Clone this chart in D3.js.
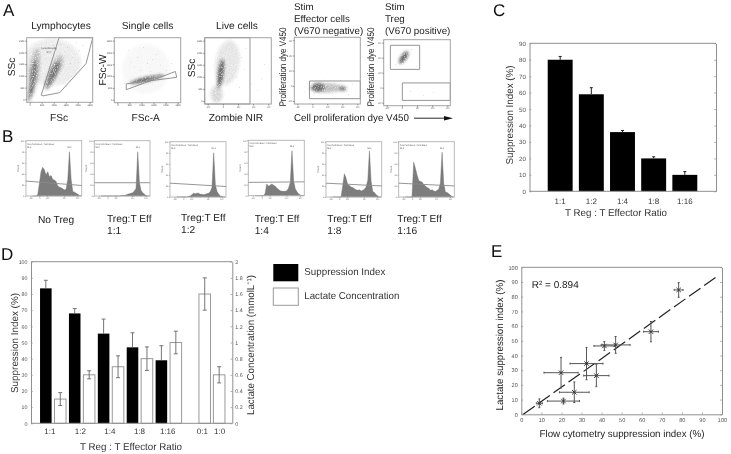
<!DOCTYPE html>
<html><head><meta charset="utf-8">
<script src="https://cdn.jsdelivr.net/npm/d3@7"></script>
<style>
html,body{margin:0;padding:0;background:#fff}
svg{display:block;filter:blur(0.3px)}
text{font-family:"Liberation Sans",Arial,sans-serif;text-rendering:geometricPrecision}
</style></head><body>
<svg id="c" width="731" height="454"></svg>
<script>
// ---------- Panel C ----------
const ratioC = ["1:1","1:2","1:4","1:8","1:16"];
const suppressionC = [80,59,36,20,10];
const suppressionCErr = [2,4,1,1,2];
// ---------- Panel D ----------
const ratioD = ["1:1","1:2","1:4","1:8","1:16","0:1","1:0"];
const ratioDSlots = [0.25,2.35,4.4,6.45,8.4,10.8,12];
const suppressionD = [83.5,68,55.5,47,39];
const suppressionDErr = [5,3,9,9,9];
const suppressionDSlots = [0,2,4,6,8];
const lactateD = [0.3,0.6,0.7,0.8,1.0,1.6,0.6];
const lactateDErr = [0.08,0.05,0.135,0.145,0.14,0.2,0.1];
const lactateDSlots = [1,3,5,7,9,11,12];
const lactateTicks = [0,0.2,0.4,0.6,0.8,1,1.2,1.4,1.6,1.8,2];
// ---------- Panel E ----------
const flowX = [9,21,26.4,19.8,32.5,37.4,41.4,47,64.6,78.4];
const flowXErr = [1.5,8,7.4,8.5,8.2,6.3,5.2,7.2,3.7,2.2];
const lactY = [7.5,9,15,28.3,34.5,26.3,46.5,47.2,56.2,84.6];
const lactYErr = [3,2,7,10.4,11,7.5,3,5.7,6.9,5];
const fitLine = [[1,0],[97.8,94.1]];
// ---------- Panel B histograms ----------
const histBins = [12,15,18,21,24,27,30,33,36,39,42,45,48,51,54,57,60,63,66,69,72,75,78,81,84,87,90,93,96,99];
const histNoTreg = [0,0,0,2,22,44,52,47,38,44,35,37,30,29,26,18,16,15,13,11,12,30,80,30,8,7,5,3,1,0];
const hist1to1 = [0,0,0,0,0,0,0,0,0,0,0,0,1,1,1,2,3,4,5,6,9,14,80,24,10,6,3,1,0,0];
const hist1to2 = [0,0,0,0,0,0,0,1,2,4,7,6,7,7,5,5,4,5,6,7,10,17,80,22,10,5,2,1,0,0];
const hist1to4 = [0,0,0,0,0,0,4,21,17,19,21,19,17,14,11,9,8,8,8,9,14,24,81,26,12,7,3,1,0,0];
const hist1to8 = [0,0,0,0,0,0,20,42,34,22,21,18,17,15,13,12,13,11,12,14,18,30,83,28,10,8,4,2,0,0];
const hist1to16 = [0,0,0,0,1,63,52,40,30,28,27,22,20,17,16,12,13,11,10,12,14,25,81,24,9,8,6,3,1,0];
const histMarker = [[27,19],[24,24],[25,19],[24,25],[25,20],[25,20]];
const histNames = ["No Treg","Treg:T Eff","Treg:T Eff","Treg:T Eff","Treg:T Eff","Treg:T Eff"];
const histSub = ["","1:1","1:2","1:4","1:8","1:16"];
const histGateL = ["M-2","M-2","M-2","M-2","M-2","M-2"];
const histGateR = ["M-1","M-1","M-1","M-1","M-1","M-1"];
const histValues = [histNoTreg,hist1to1,hist1to2,hist1to4,hist1to8,hist1to16];
// ---------- Panel A flow plots: clusters [cx, cy, rx, ry, rotation, density], in % of plot ----------
const cloudsLympho = [[38,62,44,36,0,.1],[11,46,8,38,8,.25],[10,40,4.5,26,8,.5],[5,12,4,11,15,.4],[39,42,6,24,25,.55],[45,55,8,20,25,.22]];
const cloudsSingle = [[48,52,36,38,0,.03],[49,36,27,4,-13,.6],[42,35,13,2,-13,.5]];
const cloudsLive = [[34,62,18,34,8,.13],[24,46,4.5,22,8,.7],[18,15,9,13,0,.2]];
const cloudsEff = [[49,24,26,7,0,.3],[36,25,10,7,0,.6],[74,23,5,4,0,.55]];
const cloudsTreg = [[30,73,4.5,11,35,.75]];
// sparse events scattered outside the main clusters, [x, y] in % of plot
const dotsLympho = [[52,90],[58,78],[62,85],[70,70],[75,92],[66,60],[80,80],[85,88],[55,30],[60,25],[48,18],[72,50],[78,62],[88,70],[30,92],[22,85],[35,75],[28,68],[40,88],[45,82]];
const dotsSingle = [[22,80],[35,70],[44,85],[58,66],[63,74],[70,58],[78,50],[86,60],[30,55],[50,60],[15,30],[90,40],[68,44],[40,50],[25,62],[55,48]];
const dotsLive = [[55,70],[60,52],[48,40],[70,30],[62,84],[80,20],[90,60],[85,38],[44,90],[52,25]];
const dotsEff = [[20,30],[30,15],[88,30],[15,18],[60,12],[70,35],[45,36],[82,14]];
const dotsTreg = [[40,22],[60,15],[75,20],[50,60],[18,62],[42,85]];
// gates, polygon vertices in % of plot
const gateLympho = [[22,11],[49,100],[100,100],[90,60],[50,15],[25,10]];
const gateSingle = [[18,20],[92,48],[94,39],[18,29]];
const gateLive = [[0,0],[0,100],[68,100],[68,0]];
const gateEff = [[23,8],[23,34.5],[100,34.5],[100,8]];
const gateTregHi = [[10,55],[10,91.5],[54,91.5],[54,55]];
const gateTregLo = [[28,8],[28,34.5],[100,34.5],[100,8]];

const svg = d3.select("#c");
const defs = svg.append("defs");
const f = defs.append("filter").attr("id","grain").attr("x","-30%").attr("y","-30%").attr("width","160%").attr("height","160%");
f.append("feGaussianBlur").attr("in","SourceGraphic").attr("stdDeviation",1.8).attr("result","b");
f.append("feTurbulence").attr("type","fractalNoise").attr("baseFrequency",0.9).attr("numOctaves",1).attr("seed",4).attr("result","n");
f.append("feColorMatrix").attr("in","n").attr("type","matrix").attr("values","0 0 0 0 .28 0 0 0 0 .28 0 0 0 0 .28 0 0 0 2.6 -0.3").attr("result","g");
f.append("feComposite").attr("in","b").attr("in2","g").attr("operator","in").attr("result","c");
f.append("feGaussianBlur").attr("in","c").attr("stdDeviation",0.35);

function label(x,y,t,size,opt={}){
  const e = svg.append("text").attr("x",x).attr("y",y).attr("font-size",size)
    .attr("fill",opt.fill||"#222").attr("text-anchor",opt.anchor||"start").text(t);
  if(opt.rot) e.attr("transform",`rotate(${opt.rot} ${x} ${y})`);
  if(opt.len) e.attr("textLength",opt.len).attr("lengthAdjust","spacingAndGlyphs");
  return e;
}
["A",3,16,"B",2,142,"C",493,16,"D",1,260,"E",491,257].forEach((_,i,a)=>{
  if(i%3===0) label(a[i+1],a[i+2],a[i],17,{fill:"#111"});
});

// ---------- Panel A ----------
const flowPlots = [
 {box:[26.7,92.7,37.7,102.3],clouds:cloudsLympho,dots:dotsLympho,gates:[gateLympho],xt:["0","50K","100K","150K","200K","250K"],yt:["0","50K","100K","150K","200K","250K"]},
 {box:[114.3,180.7,37.7,102.7],clouds:cloudsSingle,dots:dotsSingle,gates:[gateSingle],xt:["0","50K","100K","150K","200K","250K"],yt:["0","50K","100K","150K","200K","250K"]},
 {box:[204.7,271.3,37.7,104],clouds:cloudsLive,dots:dotsLive,gates:[gateLive],xt:["-10³","0","10³","10⁴","10⁵"],yt:["0","50K","100K","150K","200K","250K"]},
 {box:[294.3,360.3,37.3,104],clouds:cloudsEff,dots:dotsEff,gates:[gateEff],xt:["-10³","0","10³","10⁴","10⁵"],yt:["-10³","0","10³","10⁴","10⁵"]},
 {box:[383.7,450.3,39.7,105.7],clouds:cloudsTreg,dots:dotsTreg,gates:[gateTregHi,gateTregLo],xt:["-10³","0","10³","10⁴","10⁵"],yt:["-10³","0","10³","10⁴","10⁵"]}
];
flowPlots.forEach((p,i)=>{
  const x = d3.scaleLinear([0,100],[p.box[0],p.box[1]]);
  const y = d3.scaleLinear([0,100],[p.box[3],p.box[2]]);
  const cid = "cl"+i;
  defs.append("clipPath").attr("id",cid).append("rect").attr("x",p.box[0]).attr("y",p.box[2]).attr("width",p.box[1]-p.box[0]).attr("height",p.box[3]-p.box[2]);
  const clip = svg.append("g").attr("clip-path",`url(#${cid})`);
  const cl = clip.append("g").attr("filter","url(#grain)");
  cl.selectAll("ellipse").data(p.clouds).join("ellipse")
    .attr("cx",d=>x(d[0])).attr("cy",d=>y(d[1]))
    .attr("rx",d=>x(d[2])-x(0)).attr("ry",d=>y(0)-y(d[3]))
    .attr("transform",d=>`rotate(${d[4]} ${x(d[0])} ${y(d[1])})`)
    .attr("fill","#333").attr("fill-opacity",d=>d[5]);
  clip.selectAll("circle").data(p.dots).join("circle")
    .attr("cx",d=>x(d[0])).attr("cy",d=>y(d[1])).attr("r",0.35).attr("fill","#999");
  const line = d3.line().x(d=>x(d[0])).y(d=>y(d[1]));
  p.gates.forEach(g=>svg.append("path").attr("d",line(g)+"Z").attr("fill","none").attr("stroke","#8a8a8a").attr("stroke-width",0.9));
  svg.append("rect").attr("x",p.box[0]).attr("y",p.box[2]).attr("width",p.box[1]-p.box[0]).attr("height",p.box[3]-p.box[2])
    .attr("fill","none").attr("stroke","#a3a3a3").attr("stroke-width",1);
  const px = d3.scalePoint(p.xt,[p.box[0]+3,p.box[1]-3]);
  const py = d3.scalePoint(p.yt,[p.box[3]-3,p.box[2]+3]);
  const ax = svg.append("g").attr("transform",`translate(0,${p.box[3]})`).call(d3.axisBottom(px).tickSize(1.5).tickPadding(0.5));
  const ay = svg.append("g").attr("transform",`translate(${p.box[0]},0)`).call(d3.axisLeft(py).tickSize(1.5).tickPadding(0.5));
  [ax,ay].forEach(a=>{a.select(".domain").remove();a.selectAll("line").attr("stroke","#555").attr("stroke-width",.6);
    a.selectAll("text").attr("font-size",2.4).attr("fill","#555");});
});
label(61,29,"Lymphocytes",10.2,{anchor:"middle"});
label(147.5,29,"Single cells",10.2,{anchor:"middle"});
label(237,29,"Live cells",10.2,{anchor:"middle"});
label(49,49,"Lymphocytes",2.6,{anchor:"middle",fill:"#444"});
label(49,52.5,"24.4",2.6,{anchor:"middle",fill:"#444"});
label(294,9.5,"Stim",9.8); label(294,21.5,"Effector cells",9.8); label(294,33.5,"(V670 negative)",9.8);
label(385,9.5,"Stim",9.8); label(385,21.5,"Treg",9.8); label(385,33.5,"(V670 positive)",9.8);
label(15,67,"SSc",10.2,{anchor:"middle",rot:-90});
label(106,70,"FSc-W",10.2,{anchor:"middle",rot:-90});
label(194.5,68,"SSc",10.2,{anchor:"middle",rot:-90});
label(286,67,"Proliferation dye V450",9.6,{anchor:"middle",rot:-90,len:79});
label(374,67,"Proliferation dye V450",9.6,{anchor:"middle",rot:-90,len:79});
label(59,121,"FSc",10.2,{anchor:"middle"});
label(145.7,121,"FSc-A",10.2,{anchor:"middle"});
label(236,121,"Zombie NIR",10.2,{anchor:"middle"});
label(294,121,"Cell proliferation dye V450",10,{len:115});
svg.append("line").attr("x1",414).attr("x2",448).attr("y1",118.2).attr("y2",118.2).attr("stroke","#111").attr("stroke-width",.9);
svg.append("path").attr("d","M444 116 L453 118.2 L444 120.4 Z").attr("fill","#111");

// ---------- Panel B ----------
const histBoxes = [[26,81.7,140.7,196],[94.3,150,140.7,196],[170,226,141.7,197],[248.3,304.3,140.3,195.7],[326,381.7,141.7,197],[398.7,454.3,141.7,197]];
const histTextX = [56,107,181,254.7,327.3,397.3];
const histTextY = [223,222,221,222,222,222];
histValues.forEach((vals,i)=>{
  const b = histBoxes[i];
  const x = d3.scaleLinear([0,100],[b[0],b[1]]);
  const y = d3.scaleLinear([0,100],[b[3],b[2]]);
  const area = d3.area().x((d,j)=>x(histBins[j])).y0(y(0)).y1(d=>y(d));
  svg.append("path").attr("d",area(vals)).attr("fill","#7d7d7d").attr("stroke","#666").attr("stroke-width",.4);
  svg.append("rect").attr("x",b[0]).attr("y",b[2]).attr("width",b[1]-b[0]).attr("height",b[3]-b[2])
    .attr("fill","none").attr("stroke","#b3b3b3").attr("stroke-width",.9);
  svg.append("line").attr("x1",x(0)).attr("x2",x(100)).attr("y1",y(histMarker[i][0])).attr("y2",y(histMarker[i][1])).attr("stroke","#8a8a8a").attr("stroke-width",.9);
  const ax = svg.append("g").attr("transform",`translate(0,${b[3]})`).call(d3.axisBottom(x).tickValues([8,24,38,68,92]).tickFormat((d,k)=>["-10³","0","10³","10⁴","10⁵"][k]).tickSize(1.2).tickPadding(.5));
  const ay = svg.append("g").attr("transform",`translate(${b[0]},0)`).call(d3.axisLeft(y).tickValues([0,20,40,60,80,100]).tickSize(1.2).tickPadding(.5));
  [ax,ay].forEach(a=>{a.select(".domain").remove();a.selectAll("line").attr("stroke","#777").attr("stroke-width",.5);
    a.selectAll("text").attr("font-size",2.2).attr("fill","#666");});
  label(b[0]-7,(b[2]+b[3])/2,"Count",2.6,{anchor:"middle",rot:-90,fill:"#666"});
  label(b[0]+1.2,b[2]+4,"Comp-Pacific Blue-A :: Pacific Blue-A",2.5,{fill:"#555",len:27});
  label(b[0]+1.2,b[2]+7,histGateL[i],2.4,{fill:"#555"});
  label(x(78),b[2]+7,histGateR[i],2.4,{fill:"#555",anchor:"middle"});
  label(histTextX[i],histTextY[i],histNames[i],10.2,{anchor:i===0?"middle":"start"});
  if(histSub[i]) label(histTextX[i],histTextY[i]+12,histSub[i],10.2);
});

// ---------- MATLAB style frame ----------
function frame(x,y,xTicks,yTicks,pad){
  const L=x.range()[0],R=x.range()[1],B=y.range()[0],T=y.range()[1];
  const st=(a)=>{a.select(".domain").attr("stroke","#8f8f8f").attr("stroke-width",1);a.selectAll("line").attr("stroke","#8f8f8f").attr("stroke-width",.7);};
  const yl=svg.append("g").attr("transform",`translate(${L},0)`).call(d3.axisLeft(y).tickValues(yTicks).tickSizeInner(-1.8).tickSizeOuter(0).tickPadding(3.5));
  yl.call(st);
  svg.append("g").attr("transform",`translate(${R},0)`).call(d3.axisRight(y).tickValues(yTicks).tickSizeInner(-1.8).tickSizeOuter(0).tickFormat("")).call(st);
  svg.append("line").attr("x1",L).attr("x2",R).attr("y1",T).attr("y2",T).attr("stroke","#8f8f8f");
  return yl;
}

// ---------- Panel C ----------
(function(){
  const X=d3.scaleBand(ratioC,[544.6,700.4]).paddingInner(.2).paddingOuter(.1);
  const Xf=d3.scaleLinear([0,1],[529.5,716]);
  const Y=d3.scaleLinear([0,90],[191.3,43.3]);
  svg.selectAll(".cbar").data(ratioC).join("rect").attr("class","cbar")
    .attr("x",d=>X(d)).attr("width",X.bandwidth()).attr("y",(d,i)=>Y(suppressionC[i])).attr("height",(d,i)=>Y(0)-Y(suppressionC[i])).attr("fill","#000");
  svg.selectAll(".cerr").data(ratioC).join("path").attr("class","cerr")
    .attr("d",(d,i)=>{const c=X(d)+X.bandwidth()/2,t=Y(suppressionC[i]+suppressionCErr[i]);return `M${c} ${Y(suppressionC[i])}V${t}M${c-1.5} ${t}H${c+1.5}`;})
    .attr("stroke","#222").attr("stroke-width",1).attr("fill","none");
  const yl=frame(Xf,Y,[],d3.range(0,91,10));
  yl.selectAll("text").attr("font-size",6.2).attr("fill","#555");
  const xa=svg.append("g").attr("transform","translate(0,191.3)").call(d3.axisBottom(X).tickSize(0).tickPadding(7));
  xa.select(".domain").remove();
  xa.selectAll("text").attr("font-size",8).attr("fill","#333");
  svg.append("line").attr("x1",529.5).attr("x2",716).attr("y1",191.3).attr("y2",191.3).attr("stroke","#8f8f8f");
  label(616,216,"T Reg : T Effector Ratio",10,{anchor:"middle",fill:"#333",len:102});
  label(513,115,"Suppression Index (%)",10,{anchor:"middle",rot:-90,fill:"#333",len:99});
})();

// ---------- Panel D ----------
(function(){
  const slots=d3.range(13);
  const X=d3.scaleBand(slots,[38.6,226.4]).paddingInner(.2).paddingOuter(.1);
  const Xc=d3.scaleLinear([0,12],[X(0)+X.bandwidth()/2,X(12)+X.bandwidth()/2]);
  const Xf=d3.scaleLinear([0,1],[31,232.3]);
  const Y=d3.scaleLinear([0,100],[423.3,261.7]);
  const Y2=d3.scaleLinear([0,2],[423.3,261.7]);
  const errPath=(c,h,l)=>`M${c} ${l}V${h}M${c-2} ${h}H${c+2}M${c-2} ${l}H${c+2}`;
  svg.selectAll(".dw").data(lactateD).join("rect").attr("class","dw")
    .attr("x",(d,i)=>X(lactateDSlots[i])).attr("width",X.bandwidth()).attr("y",d=>Y2(d)).attr("height",d=>Y2(0)-Y2(d))
    .attr("fill","#fff").attr("stroke","#9a9a9a").attr("stroke-width",1);
  svg.selectAll(".de").data(lactateD).join("path").attr("class","de")
    .attr("d",(d,i)=>errPath(Xc(lactateDSlots[i]),Y2(d+lactateDErr[i]),Y2(d-lactateDErr[i])))
    .attr("stroke","#666").attr("stroke-width",.9).attr("fill","none");
  svg.selectAll(".db").data(suppressionD).join("rect").attr("class","db")
    .attr("x",(d,i)=>X(suppressionDSlots[i])).attr("width",X.bandwidth()).attr("y",d=>Y(d)).attr("height",d=>Y(0)-Y(d)).attr("fill","#000");
  svg.selectAll(".dbe").data(suppressionD).join("path").attr("class","dbe")
    .attr("d",(d,i)=>{const c=Xc(suppressionDSlots[i]),t=Y(d+suppressionDErr[i]);return `M${c} ${Y(d)}V${t}M${c-2} ${t}H${c+2}`;})
    .attr("stroke","#666").attr("stroke-width",.9).attr("fill","none");
  const yl=frame(Xf,Y,[],d3.range(0,101,10));
  yl.selectAll("text").attr("font-size",5.3).attr("fill","#555");
  const yr=svg.append("g").attr("transform","translate(232.3,0)").call(d3.axisRight(Y2).tickValues(lactateTicks).tickFormat(d=>d).tickSize(0).tickPadding(3));
  yr.select(".domain").remove();
  yr.selectAll("text").attr("font-size",5.3).attr("fill","#555");
  const xa=svg.append("g").attr("transform","translate(0,423.3)").call(d3.axisBottom(Xc).tickValues(ratioDSlots).tickFormat((d,i)=>ratioD[i]).tickSize(0).tickPadding(5));
  xa.select(".domain").remove();
  xa.selectAll("text").attr("font-size",8).attr("fill","#333");
  svg.append("line").attr("x1",31).attr("x2",232.3).attr("y1",423.3).attr("y2",423.3).attr("stroke","#8f8f8f");
  label(131,450,"T Reg : T Effector Ratio",10,{anchor:"middle",fill:"#333",len:102});
  label(18,343,"Suppression Index (%)",10,{anchor:"middle",rot:-90,fill:"#333",len:100});
  label(254,345,"Lactate Concentration (mmolL⁻¹)",10,{anchor:"middle",rot:-90,fill:"#333",len:140});
})();
// legend
svg.append("rect").attr("x",273.3).attr("y",264).attr("width",25).attr("height",17.3).attr("fill","#000");
svg.append("rect").attr("x",273.3).attr("y",288).attr("width",25).attr("height",17.3).attr("fill","#fff").attr("stroke","#999");
label(304.3,275,"Suppression Index",10,{fill:"#333",len:81});
label(304.3,299.3,"Lactate Concentration",10,{fill:"#333",len:95});

// ---------- Panel E ----------
(function(){
  const X=d3.scaleLinear([0,100],[521.3,722]);
  const Y=d3.scaleLinear([0,100],[414.3,267.3]);
  const yl=frame(X,Y,[],d3.range(0,101,10));
  yl.selectAll("text").attr("font-size",5.6).attr("fill","#555");
  const xa=svg.append("g").attr("transform","translate(0,414.3)").call(d3.axisBottom(X).tickValues(d3.range(0,101,10)).tickSizeInner(-1.8).tickSizeOuter(0).tickPadding(3.7));
  xa.select(".domain").attr("stroke","#8f8f8f");
  xa.selectAll("line").attr("stroke","#8f8f8f").attr("stroke-width",.7);
  xa.selectAll("text").attr("font-size",5.6).attr("fill","#555");
  svg.append("path").attr("d",d3.line().x(d=>X(d[0])).y(d=>Y(d[1]))(fitLine)).attr("fill","none").attr("stroke","#222").attr("stroke-width",1.2).attr("stroke-dasharray","14 4.5");
  const g=svg.append("g").attr("stroke","#555").attr("stroke-width",1).attr("fill","none");
  flowX.forEach((fx,i)=>{
    const cx=X(fx),cy=Y(lactY[i]);
    const xl=X(fx-flowXErr[i]),xr=X(fx+flowXErr[i]),yt=Y(lactY[i]+lactYErr[i]),yb=Y(lactY[i]-lactYErr[i]);
    g.append("path").attr("d",`M${xl} ${cy}H${xr}M${xl} ${cy-1}v2M${xr} ${cy-1}v2M${cx} ${yt}V${yb}M${cx-1} ${yt}h2M${cx-1} ${yb}h2`);
    g.append("path").attr("d",`M${cx-2.2} ${cy-2.2}L${cx+2.2} ${cy+2.2}M${cx-2.2} ${cy+2.2}L${cx+2.2} ${cy-2.2}`).attr("stroke","#333");
  });
  const r=label(531.7,288,"",10,{fill:"#222"});
  r.append("tspan").text("R");
  r.append("tspan").text("2").attr("font-size",6).attr("dy",-3.5);
  r.append("tspan").text(" = 0.894").attr("dy",3.5);
  label(622,437,"Flow cytometry suppression index (%)",10,{anchor:"middle",fill:"#222",len:165});
  label(502.5,345,"Lactate suppression index (%)",10,{anchor:"middle",rot:-90,fill:"#222",len:131});
})();
</script></body></html>
